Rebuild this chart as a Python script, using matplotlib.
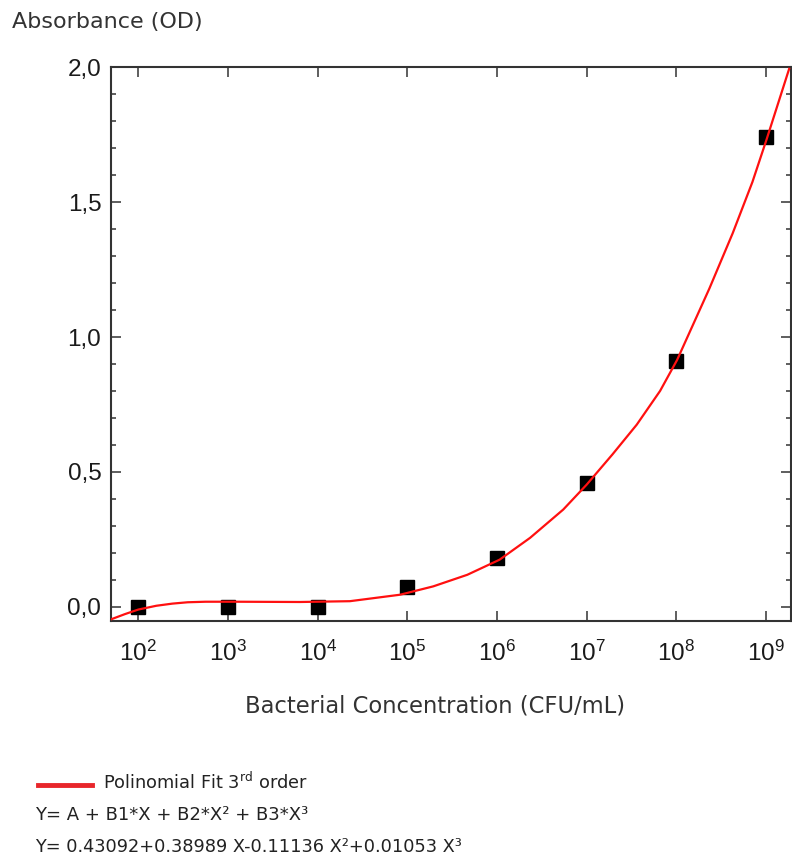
import numpy as np
import matplotlib
matplotlib.use("Agg")
import matplotlib.pyplot as plt
from matplotlib.lines import Line2D
from matplotlib.ticker import FixedLocator, FuncFormatter, MultipleLocator

plt.rcParams['font.family'] = ['Liberation Sans', 'DejaVu Sans']
plt.rcParams['mathtext.fontset'] = 'custom'
plt.rcParams['mathtext.rm'] = 'Liberation Sans'
plt.rcParams['mathtext.it'] = 'Liberation Sans:italic'
plt.rcParams['mathtext.sf'] = 'DejaVu Sans'

# Measured data (log10 of concentration, absorbance)
conc_exponents = [2, 3, 4, 5, 6, 7, 8, 9]
absorbance = [0.0, 0.0, 0.0, 0.073, 0.18, 0.457, 0.91, 1.744]

# Fit curve (log10 concentration, absorbance)
fit_log_conc = [1.69, 1.85, 2.0, 2.2, 2.38, 2.55, 2.75, 3.11, 3.80, 4.36, 4.92,
                5.29, 5.67, 6.03, 6.37, 6.74, 7.00, 7.29, 7.56, 7.82, 8.01,
                8.37, 8.63, 8.85, 9.01, 9.26]
fit_abs = [-0.048, -0.028, -0.011, 0.003, 0.011, 0.016, 0.018, 0.018, 0.017,
           0.02, 0.044, 0.075, 0.118, 0.174, 0.255, 0.36, 0.452, 0.565, 0.675,
           0.80, 0.915, 1.18, 1.385, 1.575, 1.735, 1.995]

y_ticks = [0.0, 0.5, 1.0, 1.5, 2.0]
y_tick_labels = ["0,0", "0,5", "1,0", "1,5", "2,0"]

W, H = 792, 861
fig = plt.figure(figsize=(W / 100, H / 100), dpi=100)
ax = fig.add_axes([111 / W, 1 - 621 / H, (790.5 - 111) / W, (621 - 67.5) / H])

x_data = [10.0 ** e for e in conc_exponents]
x_fit = [10.0 ** e for e in fit_log_conc]

ax.plot(x_fit, fit_abs, color='#ff1010', lw=1.6, zorder=3)
ax.plot(x_data, absorbance, linestyle='none', marker='s', markersize=10,
        color='black', zorder=2)

ax.set_xscale('log')
ax.set_xlim(10 ** 1.695, 10 ** 9.275)
ax.set_ylim(-0.0535, 2.0)

ax.xaxis.set_major_locator(FixedLocator(x_data))
ax.xaxis.set_minor_locator(FixedLocator([]))
ax.xaxis.set_major_formatter(FuncFormatter(
    lambda v, p: r"$\mathdefault{10^{%d}}$" % int(round(np.log10(v)))))
ax.set_yticks(y_ticks)
ax.set_yticklabels(y_tick_labels)
ax.yaxis.set_minor_locator(MultipleLocator(0.1))

for s in ax.spines.values():
    s.set_linewidth(1.5)
    s.set_color('#333333')

ax.tick_params(which='both', direction='in', top=True, right=True,
               color='#333333', width=1.1)
ax.tick_params(which='major', length=7.5)
ax.tick_params(which='minor', length=3.5)
ax.tick_params(axis='y', which='major', labelsize=17.5, pad=7, labelcolor='#1a1a1a')
ax.tick_params(axis='x', which='major', labelsize=17.5, pad=14, labelcolor='#1a1a1a')

fig.text(12 / W, 1 - 22 / H, "Absorbance (OD)", fontsize=16,
         family='DejaVu Sans', color='#333333', ha='left', va='center')
fig.text(435 / W, 1 - 706 / H, "Bacterial Concentration (CFU/mL)", fontsize=16.3,
         family='DejaVu Sans', color='#333333', ha='center', va='center')

# legend-like annotation
fig.add_artist(Line2D([38 / W, 92 / W], [1 - 785 / H, 1 - 785 / H],
                      color='#e8262b', lw=3.5, transform=fig.transFigure))
fig.text(103 / W, 1 - 782 / H, r"Polinomial Fit 3$^{\mathsf{rd}}$ order",
         fontsize=12.8, family='DejaVu Sans', color='#222222', ha='left', va='center')
fig.text(35 / W, 1 - 815 / H, "Y= A + B1*X + B2*X² + B3*X³",
         fontsize=13, family='DejaVu Sans', color='#222222', ha='left', va='center')
fig.text(35 / W, 1 - 847 / H, "Y= 0.43092+0.38989 X-0.11136 X²+0.01053 X³",
         fontsize=12.8, family='DejaVu Sans', color='#222222', ha='left', va='center')

fig.savefig("out.png", dpi=100)
